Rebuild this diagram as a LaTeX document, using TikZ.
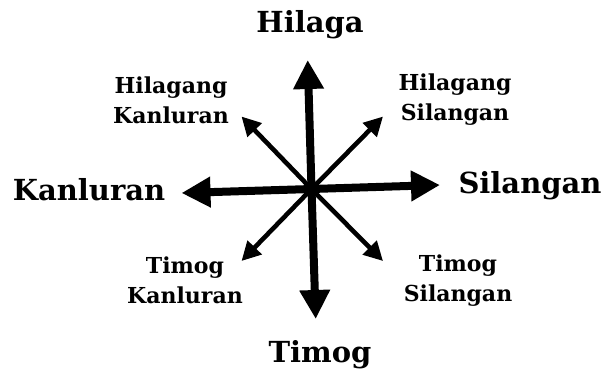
\documentclass[tikz,border=0pt]{standalone}
\usepackage{fontspec}
\setmainfont{DejaVu Serif}
\usetikzlibrary{arrows.meta}
\tikzset{
  mainarrow/.style={line width=8pt, -{Triangle[length=29pt,width=29pt]}},
  diagarrow/.style={line width=4.6pt, -{Triangle[length=19pt,width=19pt]}},
  biglabel/.style={font=\bfseries\fontsize{29}{32}\selectfont},
  smalllabel/.style={font=\bfseries\fontsize{22}{30}\selectfont, align=center},
}
\begin{document}
\begin{tikzpicture}[x=1pt,y=-1pt]
        \useasboundingbox (0,0) rectangle (605,373);
        % centre and arrow tips
        \coordinate (c) at (311.5,189);
        \coordinate (n) at (307.7,60);
        \coordinate (s) at (315.7,319);
        \coordinate (w) at (181.5,193);
        \coordinate (e) at (440,185);
        \coordinate (nw) at (241.5,116.5);
        \coordinate (ne) at (383,116.5);
        \coordinate (sw) at (241.5,261);
        \coordinate (se) at (383,261);
        % arrows
        \foreach \tip in {nw,ne,sw,se}{
          \draw[diagarrow] (c) -- (\tip);
        }
        \foreach \tip in {n,s,w,e}{
          \draw[mainarrow] (c) -- (\tip);
        }
        % labels
        \node[biglabel] (hilaga) at (310,25) {Hilaga};
        \node[biglabel] (timog) at (320,355) {Timog};
        \node[biglabel] (kanluran) at (89,190) {Kanluran};
        \node[biglabel] (silangan) at (530,186) {Silangan};
        \node[smalllabel] (hkanluran) at (171,100) {Hilagang\\Kanluran};
        \node[smalllabel] (hsilangan) at (455,100) {Hilagang\\Silangan};
        \node[smalllabel] (tkanluran) at (185,280) {Timog\\Kanluran};
        \node[smalllabel] (tsilangan) at (458,281) {Timog\\Silangan};
      \end{tikzpicture}
\end{document}
